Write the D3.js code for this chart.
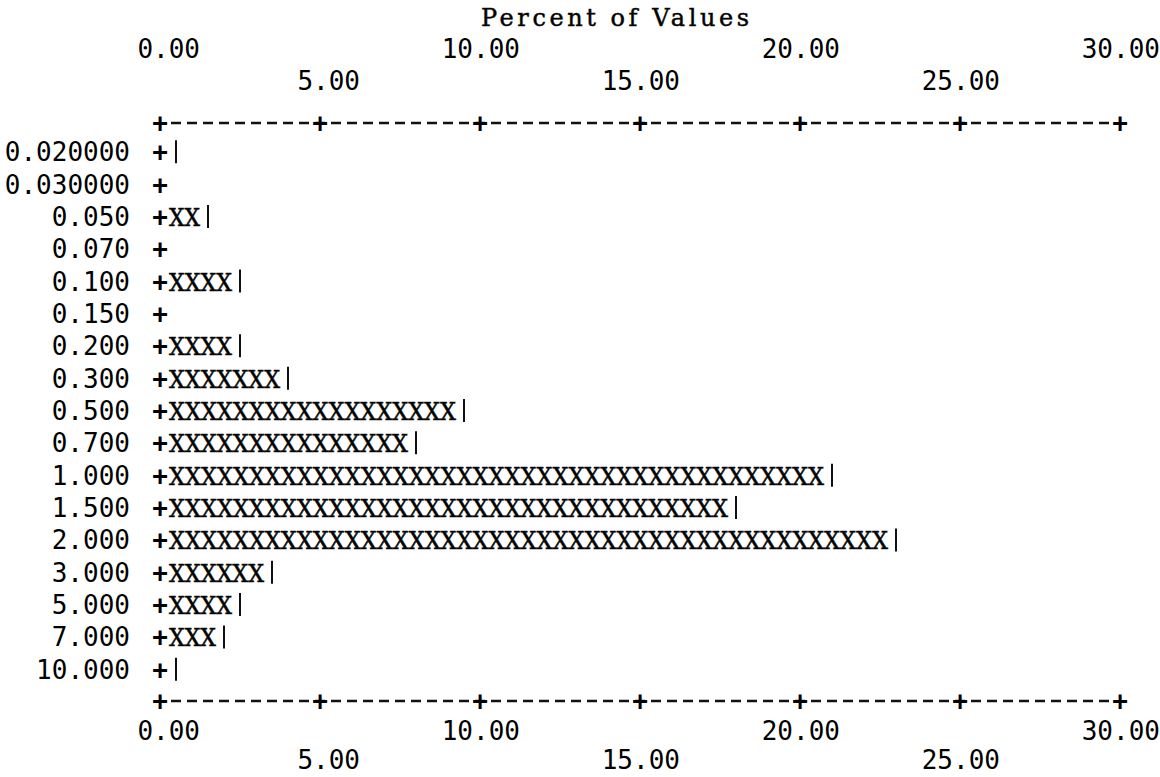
<!DOCTYPE html>
<html>
<head>
<meta charset="utf-8">
<script src="https://cdn.jsdelivr.net/npm/d3@7"></script>
<style>
  body { margin: 0; background: #fff; }
</style>
</head>
<body>
<div id="chart"></div>
<script>
// values: one X is half a percent
var categories = ["0.020000", "0.030000", "0.050", "0.070", "0.100", "0.150", "0.200", "0.300",
                  "0.500", "0.700", "1.000", "1.500", "2.000", "3.000", "5.000", "7.000", "10.000"];
var percents = [0.25, 0, 1.0, 0, 2.0, 0, 2.0, 3.5, 9.0, 7.5, 20.5, 17.5, 22.5, 3.0, 2.0, 1.5, 0.25];
var tickValues = [0, 5, 10, 15, 20, 25, 30];
var tickLabels = ["0.00", "5.00", "10.00", "15.00", "20.00", "25.00", "30.00"];
var axisTitle = "Percent of Values";

var width = 1160,
    height = 777;

var monoSans = "'DejaVu Sans Mono', monospace",
    slabSerif = "'DejaVu Serif', serif",
    fontSize = 26;

var svg = d3.select("#chart")
    .append("svg")
        .attr("width", width)
        .attr("height", height);

var x = d3.scaleLinear()
    .domain([0, 30])
    .range([160, 1120]);

var y = d3.scaleBand()
    .domain(categories)
    .range([136, 686])
    .padding(0);

var pitch = x(0.5) - x(0);   // one character cell
var rowMid = function(c) { return y(c) + y.bandwidth() / 2; };

var axisTopY = 123,
    axisBottomY = 701;

// title
svg.append("text")
    .attr("x", 615)
    .attr("y", 26)
    .attr("text-anchor", "middle")
    .attr("textLength", 268)
    .attr("lengthAdjust", "spacing")
    .style("font-family", slabSerif)
    .style("font-size", "24px")
    .style("stroke", "#111")
    .style("stroke-width", 0.5)
    .text(axisTitle);

function drawAxis(yPos, labelRows) {
    svg.append("line")
        .attr("x1", x(0) + pitch / 2 + 3)
        .attr("x2", x(30) - pitch / 2)
        .attr("y1", yPos)
        .attr("y2", yPos)
        .attr("stroke", "#111")
        .attr("stroke-width", 2.5)
        .attr("stroke-dasharray", (pitch - 6) + "," + 6);

    svg.selectAll(null)
        .data(tickValues)
        .enter()
        .append("text")
        .attr("x", function(d) { return x(d); })
        .attr("y", yPos + 9)
        .attr("text-anchor", "middle")
        .style("font-family", monoSans)
        .style("font-weight", "bold")
        .style("font-size", fontSize + "px")
        .text("+");

    svg.selectAll(null)
        .data(tickValues)
        .enter()
        .append("text")
        .attr("x", function(d) { return x(d) + 2.5 * pitch; })
        .attr("y", function(d, i) { return labelRows[i % 2]; })
        .attr("text-anchor", "end")
        .style("font-family", monoSans)
        .style("font-size", fontSize + "px")
        .text(function(d, i) { return tickLabels[i]; });
}

drawAxis(axisTopY, [58, 90]);
drawAxis(axisBottomY, [740, 769]);

var data = categories.map(function(c, i) { return [c, percents[i]]; });

var rows = svg.selectAll("g.row")
    .data(data)
    .enter()
    .append("g")
    .attr("class", "row")
    .attr("transform", function(d) { return "translate(0," + (rowMid(d[0]) + 9) + ")"; });

rows.append("text")
    .attr("x", x(0) - 1.5 * pitch - 6)
    .attr("text-anchor", "end")
    .style("font-family", monoSans)
    .style("font-size", fontSize + "px")
    .text(function(d) { return d[0]; });

rows.append("text")
    .attr("x", x(0))
    .attr("text-anchor", "middle")
    .style("font-family", monoSans)
    .style("font-weight", "bold")
    .style("font-size", fontSize + "px")
    .text("+");

// the X's fill from the edge of the + up to the bar value
rows.filter(function(d) { return x(d[1]) - x(0) >= pitch; })
    .append("text")
    .attr("x", x(0) + pitch / 2 + 1)
    .attr("textLength", function(d) { return x(d[1]) - x(0) - 1; })
    .attr("lengthAdjust", "spacingAndGlyphs")
    .style("font-family", slabSerif)
    .style("font-size", "25px")
    .style("stroke", "#111")
    .style("stroke-width", 0.6)
    .text(function(d) { return "X".repeat(Math.round((x(d[1]) - x(0)) / pitch)); });

rows.filter(function(d) { return d[1] > 0; })
    .append("line")
    .attr("x1", function(d) { return x(Math.floor(d[1] * 2) / 2) + pitch; })
    .attr("x2", function(d) { return x(Math.floor(d[1] * 2) / 2) + pitch; })
    .attr("y1", -21)
    .attr("y2", 2)
    .attr("stroke", "#111")
    .attr("stroke-width", 2);
</script>
</body>
</html>
